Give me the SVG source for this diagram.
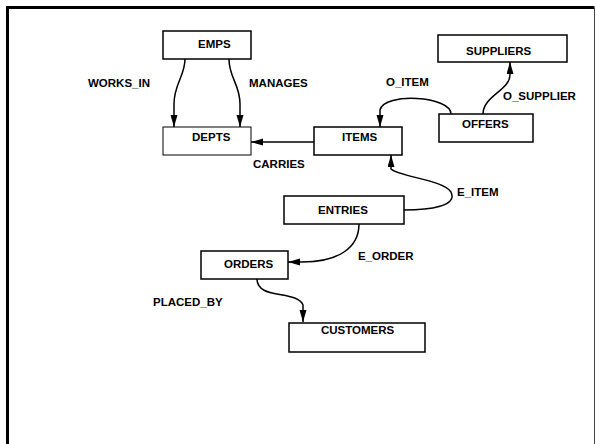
<svg xmlns="http://www.w3.org/2000/svg" width="596" height="444" viewBox="0 0 596 444">
<style>
.box{fill:#fff;stroke:#000;stroke-width:1.5}
.thin{stroke-width:1}
.lbl{font-family:"Liberation Sans",Arial,sans-serif;font-weight:bold;font-size:11.5px;fill:#000}
.edge{fill:none;stroke:#000;stroke-width:1.5}
</style>
<defs>
<marker id="ah" markerUnits="userSpaceOnUse" markerWidth="13" markerHeight="8" refX="12" refY="3.5" orient="auto">
<path d="M0,0 L12,3.5 L0,7 z" fill="#000"/>
</marker>
</defs>
<rect width="596" height="444" fill="#fff"/>
<g id="frame">
<path d="M7.5,450 L7.5,7.5 L594.5,7.5" fill="none" stroke="#000" stroke-width="3"/>
<path d="M594.5,8 L594.5,450" fill="none" stroke="#444" stroke-width="1"/>
</g>
<g id="connectors">
<path class="edge" d="M185,59 C185,76 174,84 174,104 L174,127" marker-end="url(#ah)"/>
<path class="edge" d="M229,59 C229,78 240,84 240,104 L240,127" marker-end="url(#ah)"/>
<path class="edge" d="M314,142 L251,142" marker-end="url(#ah)"/>
<path class="edge" d="M451,114 C451,96 384,92 380,110 L380,127" marker-end="url(#ah)"/>
<path class="edge" d="M483,114 C483,96 510,90 510,75 L510,62" marker-end="url(#ah)"/>
<path class="edge" d="M404,210 C430,210 458,206 451,192 C444,180 400,177 391,169 L391,155" marker-end="url(#ah)"/>
<path class="edge" d="M359,224 C359,248 338,262 302,262 L288,262" marker-end="url(#ah)"/>
<path class="edge" d="M257,279 C257,300 297,290 303,305 L303,322" marker-end="url(#ah)"/>
</g>
<g id="labels">
<text class="lbl" x="88" y="87">WORKS_IN</text>
<text class="lbl" x="249" y="87">MANAGES</text>
<text class="lbl" x="253" y="168">CARRIES</text>
<text class="lbl" x="386" y="86">O_ITEM</text>
<text class="lbl" x="503" y="100">O_SUPPLIER</text>
<text class="lbl" x="457" y="196">E_ITEM</text>
<text class="lbl" x="358" y="260">E_ORDER</text>
<text class="lbl" x="153" y="306">PLACED_BY</text>
</g>
<g id="EMPS"><rect class="box" x="163" y="31" width="88" height="28"/><text class="lbl" x="198" y="48">EMPS</text></g>
<g id="DEPTS"><rect class="box thin" x="163" y="127" width="88" height="28"/><text class="lbl" x="192" y="141">DEPTS</text></g>
<g id="ITEMS"><rect class="box" x="314" y="127" width="88" height="28"/><text class="lbl" x="342" y="141">ITEMS</text></g>
<g id="OFFERS"><rect class="box" x="439" y="114" width="94" height="28"/><text class="lbl" x="462" y="128">OFFERS</text></g>
<g id="SUPPLIERS"><rect class="box" x="438" y="35" width="129" height="27"/><text class="lbl" x="466" y="55">SUPPLIERS</text></g>
<g id="ENTRIES"><rect class="box" x="284" y="196" width="120" height="28"/><text class="lbl" x="318" y="214">ENTRIES</text></g>
<g id="ORDERS"><rect class="box" x="201" y="251" width="87" height="28"/><text class="lbl" x="224" y="268">ORDERS</text></g>
<g id="CUSTOMERS"><rect class="box" x="289" y="323" width="136" height="29"/><text class="lbl" x="321" y="334">CUSTOMERS</text></g>
</svg>
